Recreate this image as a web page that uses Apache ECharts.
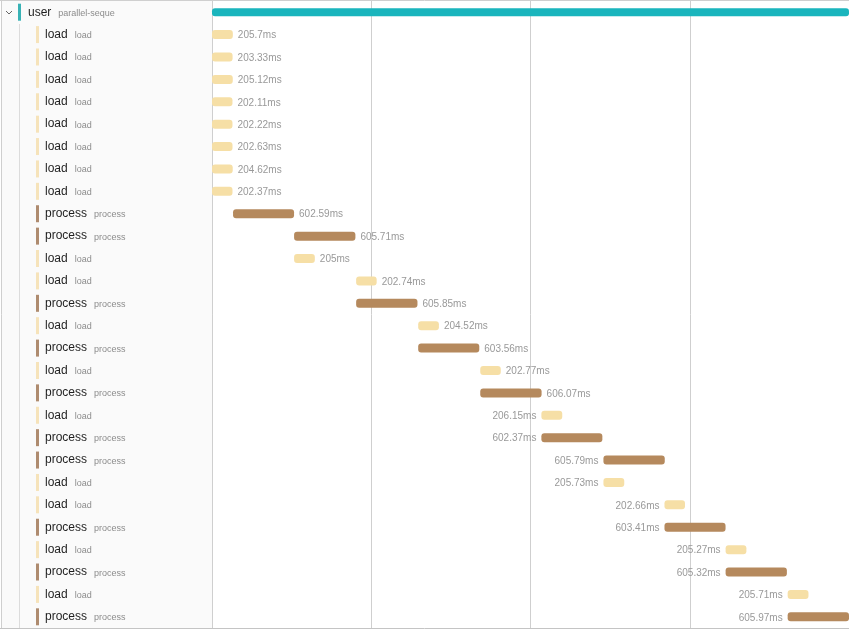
<!DOCTYPE html>
<html>
<head>
<meta charset="utf-8">
<style>
  html, body { margin: 0; padding: 0; background: #fff; }
  #main { width: 849px; height: 630px; }
</style>
<script src="https://cdn.jsdelivr.net/npm/echarts@6/dist/echarts.min.js"></script>
</head>
<body>
<div id="main"></div>
<script>
// first row is the parent span, the rest are its children
var names = ['user',
  'load','load','load','load','load','load','load','load',
  'process','process','load','load','process','load','process','load','process',
  'load','process','process','load','load','process','load','process','load','process'];
var subNames = ['parallel-seque',
  'load','load','load','load','load','load','load','load',
  'process','process','load','load','process','load','process','load','process',
  'load','process','process','load','load','process','load','process','load','process'];
var starts = [0,
  0,0,0,0,0,0,0,0,
  208,811,811,1424,1424,2037,2037,2650,2650,
  3254,3254,3867,3867,4470,4470,5074,5074,5687,5687];
var durations = [6293,
  205.7,203.33,205.12,202.11,202.22,202.63,204.62,202.37,
  602.59,605.71,205,202.74,605.85,204.52,603.56,202.77,606.07,
  206.15,602.37,605.79,205.73,202.66,603.41,205.27,605.32,205.71,605.97];
// rows from this index on have the time label left of the bar
var leftLabelFrom = 18;
var totalMs = 6293;

var barColors = { user: '#1ab5bd', load: '#f6dfa6', process: '#b5895d' };
var stripColors = { user: '#38b2b5', load: '#f6e3ba', process: '#ae8b6f' };

var rows = names.map(function (n, i) {
  return [i, starts[i], durations[i]];
});

function renderBar(params, api) {
  var row = api.value(0);
  var from = api.coord([api.value(1), row]);
  var to = api.coord([api.value(1) + api.value(2), row]);
  var name = names[row];
  var h = name === 'user' ? 8 : 9;
  var children = [{
    type: 'rect',
    shape: { x: from[0], y: from[1] - h / 2, width: to[0] - from[0], height: h, r: 3 },
    style: { fill: barColors[name] }
  }];
  if (row > 0) {
    var left = row >= leftLabelFrom;
    children.push({
      type: 'text',
      style: {
        x: left ? from[0] - 5 : to[0] + 5,
        y: from[1] + 1,
        text: durations[row] + 'ms',
        fill: '#999',
        font: '10px "Liberation Sans"',
        align: left ? 'right' : 'left',
        verticalAlign: 'middle'
      }
    });
  }
  return { type: 'group', children: children };
}

// coloured strip in front of each row name
function renderStrip(params, api) {
  var row = api.value(0);
  var y = api.coord([0, row])[1];
  return {
    type: 'rect',
    shape: { x: row === 0 ? 18 : 36, y: y - 8.5, width: 3, height: 17 },
    style: { fill: stripColors[names[row]] }
  };
}

var myChart = echarts.init(document.getElementById('main'), null, { renderer: 'canvas' });

myChart.setOption({
  animation: false,
  backgroundColor: '#fff',
  textStyle: { fontFamily: '"Liberation Sans"' },
  grid: { left: 212, right: 0, top: 1, bottom: 2 },
  xAxis: {
    type: 'value',
    position: 'top',
    min: 0,
    max: totalMs,
    interval: totalMs / 4,
    axisLine: { show: false },
    axisTick: { show: false },
    axisLabel: { show: false },
    splitLine: { show: true, lineStyle: { color: '#cfcfcf', width: 1 } }
  },
  yAxis: {
    type: 'category',
    inverse: true,
    data: names,
    axisLine: { show: false },
    axisTick: { show: false },
    splitLine: { show: false },
    axisLabel: {
      interval: 0,
      align: 'left',
      margin: 184,
      formatter: function (value, i) {
        return (i === 0 ? '{user|' : '{name|') + value + '}{sub|' + subNames[i] + '}';
      },
      rich: {
        user: { fontSize: 12, color: '#1f1f1f', fontFamily: '"Liberation Sans"', padding: [0, 7, 0, 0] },
        name: { fontSize: 12, color: '#1f1f1f', fontFamily: '"Liberation Sans"', padding: [0, 7, 0, 17] },
        sub: { fontSize: 9, color: '#8c8c8c', fontFamily: '"Liberation Sans"', padding: [2, 0, 0, 0] }
      }
    }
  },
  graphic: [
    { type: 'rect', z: -10, silent: true, shape: { x: 1, y: 0, width: 211, height: 629 }, style: { fill: '#fafafa' } },
    { type: 'line', z: -9, silent: true, shape: { x1: 1.5, y1: 0, x2: 1.5, y2: 629 }, style: { stroke: '#cfcfcf', lineWidth: 1 } },
    { type: 'line', z: -9, silent: true, shape: { x1: 212.5, y1: 0, x2: 212.5, y2: 629 }, style: { stroke: '#cfcfcf', lineWidth: 1 } },
    { type: 'line', z: -9, silent: true, shape: { x1: 19.5, y1: 24, x2: 19.5, y2: 628 }, style: { stroke: '#dcdcdc', lineWidth: 1 } },
    { type: 'line', z: 10, silent: true, shape: { x1: 0, y1: 0.5, x2: 849, y2: 0.5 }, style: { stroke: '#cfcfcf', lineWidth: 1 } },
    { type: 'line', z: 10, silent: true, shape: { x1: 0, y1: 628.5, x2: 849, y2: 628.5 }, style: { stroke: '#c4c4c4', lineWidth: 1 } },
    { type: 'polyline', z: 10, silent: true, shape: { points: [[6, 11], [9, 14], [12, 11]] }, style: { stroke: '#666', fill: null, lineWidth: 1 } }
  ],
  series: [
    {
      type: 'custom',
      name: 'spans',
      renderItem: renderBar,
      encode: { x: [1], y: 0 },
      data: rows,
      z: 3
    },
    {
      type: 'custom',
      name: 'strips',
      renderItem: renderStrip,
      encode: { y: 0 },
      data: rows,
      z: 3
    }
  ]
});

window.onresize = function () {
  myChart.resize();
};
</script>
</body>
</html>
